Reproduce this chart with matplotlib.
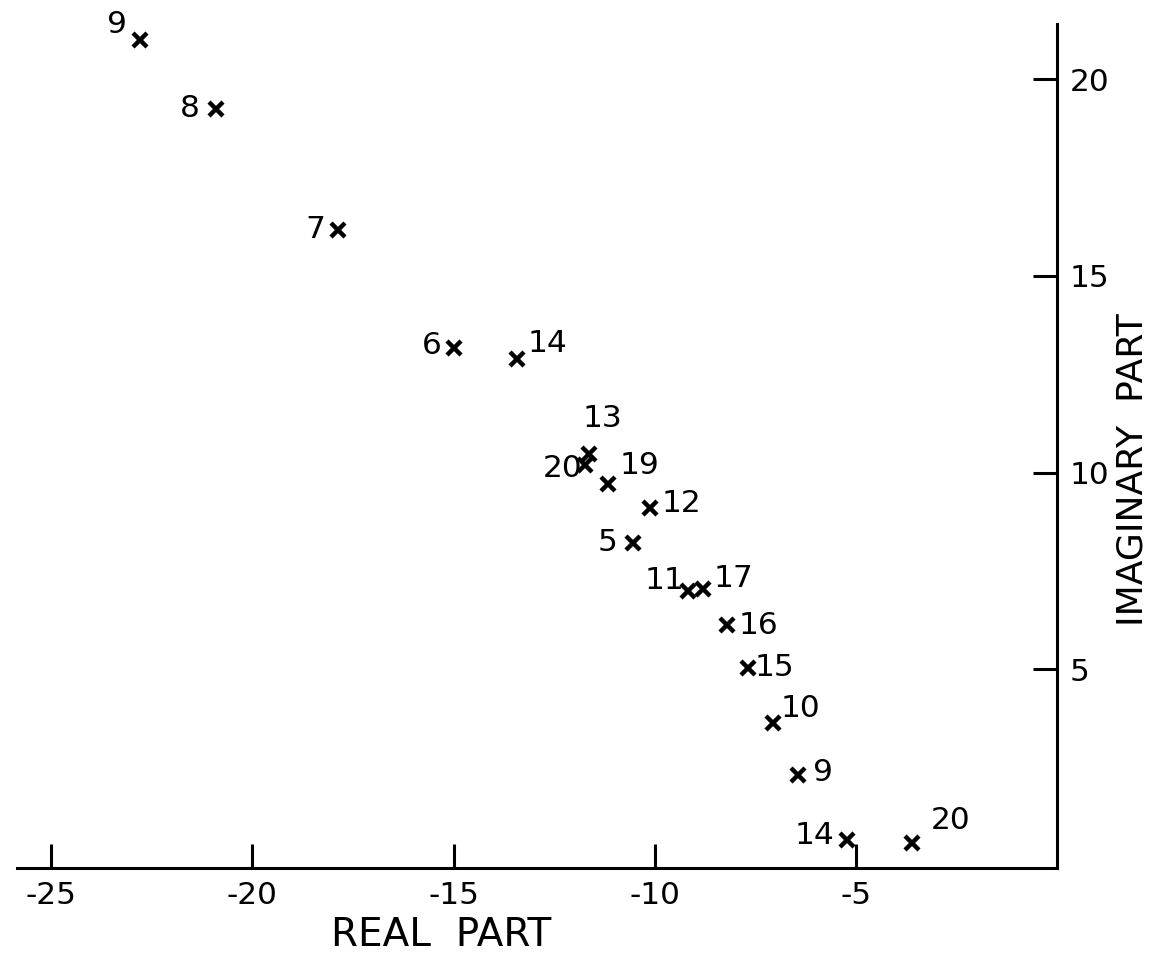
import matplotlib
matplotlib.use('Agg')
from matplotlib import pyplot as plt

# roots: label, real part, imaginary part
labels = ['9', '8', '7', '6', '14', '13', '20', '19', '12', '5',
          '11', '17', '16', '15', '10', '9', '14', '20']
real = [-22.8, -20.9, -17.86, -14.98, -13.43, -11.64, -11.72, -11.17, -10.12, -10.55,
        -9.18, -8.8, -8.2, -7.69, -7.06, -6.44, -5.22, -3.6]
imag = [21.0, 19.24, 16.17, 13.17, 12.89, 10.48, 10.18, 9.72, 9.09, 8.22,
        7.0, 7.03, 6.12, 5.03, 3.63, 2.31, 0.66, 0.58]
# where each number sits next to its cross (pixels)
offsets = [(-23, 15), (-26, 0), (-23, 0), (-23, 2), (31, 15), (14, 35), (-23, -3), (32, 18),
           (32, 5), (-25, 0), (-23, 10), (30, 11), (31, 0), (27, 1), (27, 15), (25, 3),
           (-32, 5), (38, 23)]

xticks = [-25, -20, -15, -10, -5]
yticks = [5, 10, 15, 20]

plt.rcParams['axes.unicode_minus'] = False
plt.rcParams['font.family'] = 'DejaVu Sans'

fig = plt.figure(figsize=(11.49, 9.58), dpi=100)
ax = fig.add_axes([17 / 1149, 90 / 958, 1040 / 1149, 844 / 958])

ax.plot(real, imag, 'x', color='black', ms=10, mew=3.2)
for lab, x, y, off in zip(labels, real, imag, offsets):
    ax.annotate(lab, (x, y), xytext=off, textcoords='offset pixels',
                ha='center', va='center', fontsize=22.5)

ax.set_xlim(-25.85, 0)
ax.set_ylim(-0.05, 21.4)

ax.spines['top'].set_visible(False)
ax.spines['left'].set_visible(False)
ax.spines['right'].set_linewidth(2.2)
ax.spines['bottom'].set_linewidth(2.2)

ax.yaxis.tick_right()
ax.yaxis.set_label_position('right')
ax.set_xticks(xticks)
ax.set_xticklabels([str(t) for t in xticks])
ax.set_yticks(yticks)
ax.set_yticklabels([str(t) for t in yticks])
ax.tick_params(axis='both', direction='in', length=17, width=2.2, labelsize=22.5, pad=9)

ax.set_xlabel('REAL  PART', fontsize=28)
ax.xaxis.set_label_coords(0.408, -0.057)
ax.set_ylabel('IMAGINARY  PART', fontsize=26)
ax.yaxis.set_label_coords(1.056, 0.472)

fig.savefig('out.png', dpi=100)
